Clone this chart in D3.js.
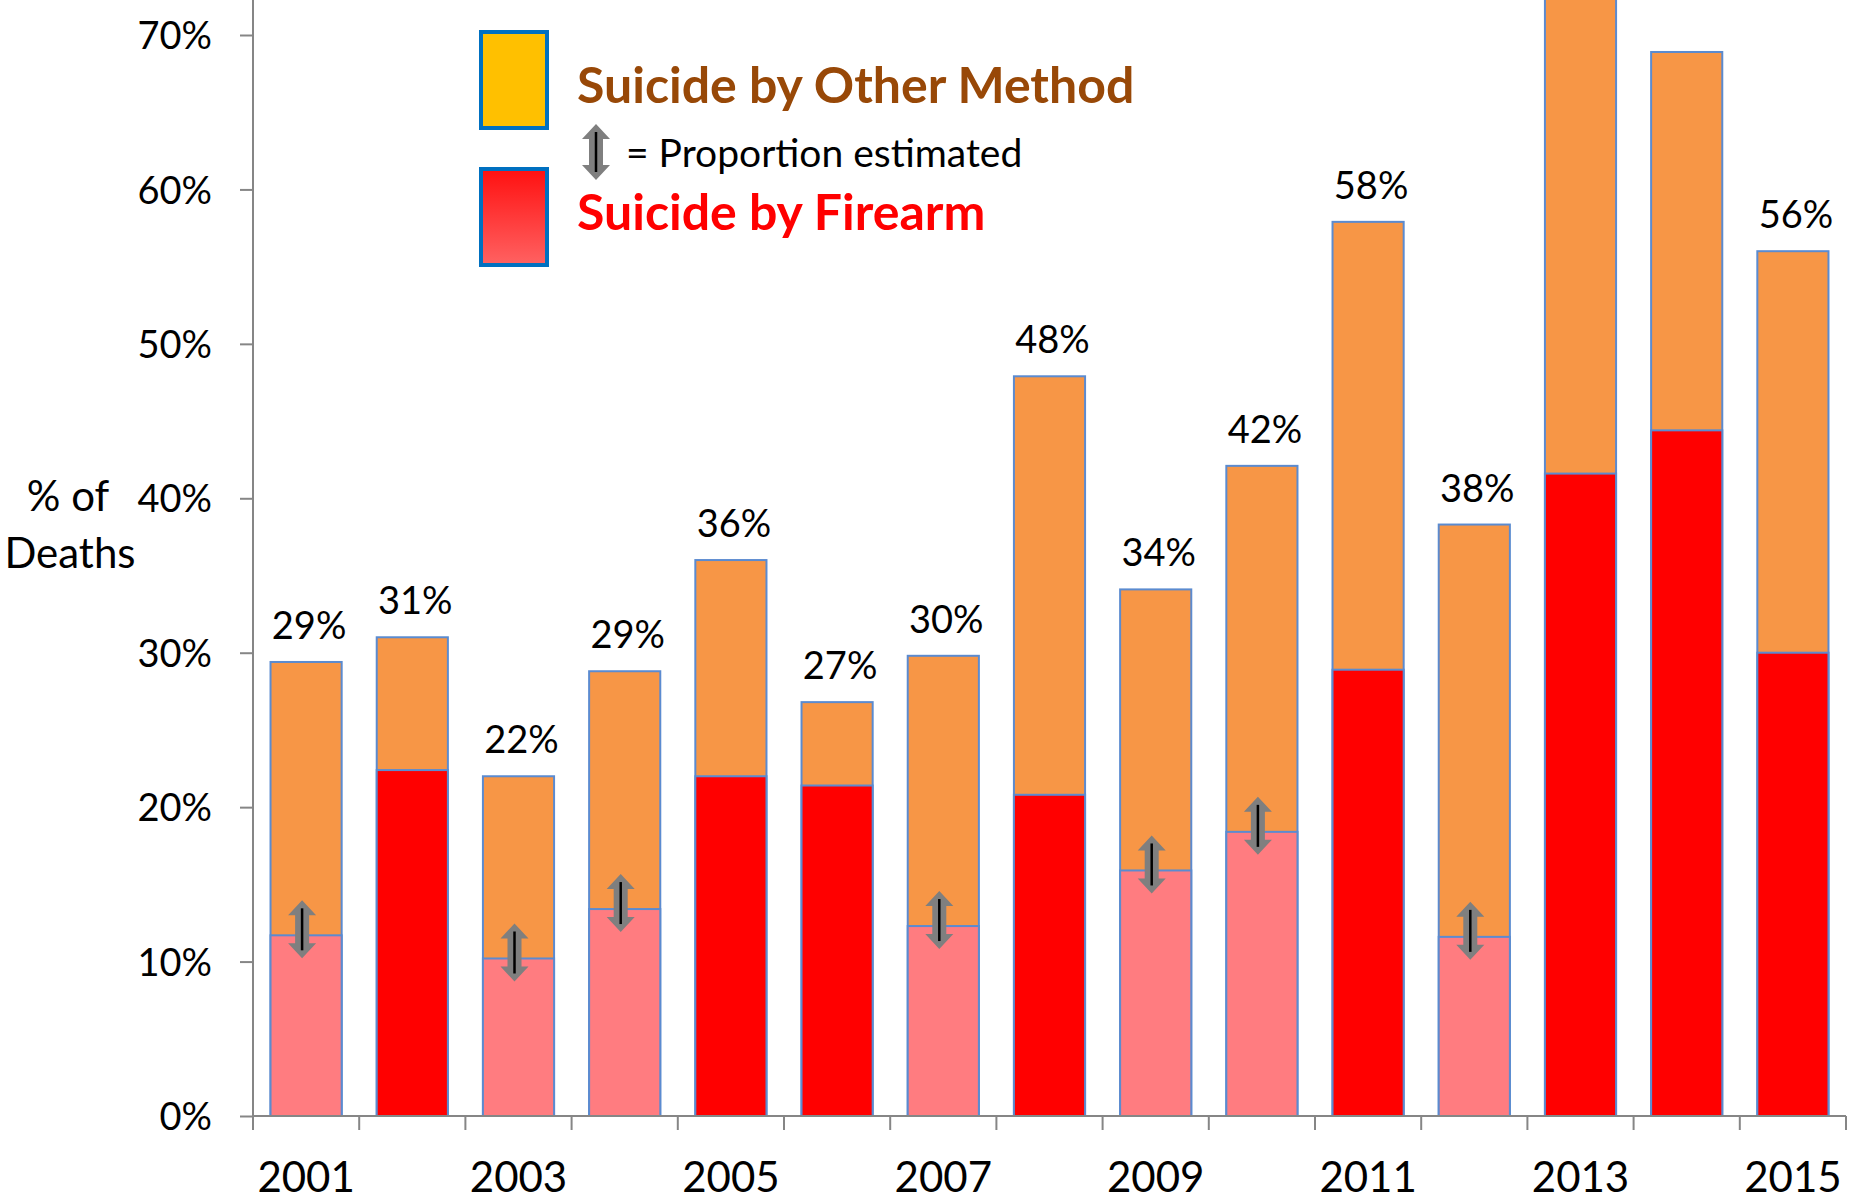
<!DOCTYPE html>
<html lang="en">
<head>
	<meta charset="UTF-8">
	<title>Suicide by firearm / other method</title>
	<script src="https://cdnjs.cloudflare.com/ajax/libs/d3/7.8.5/d3.min.js"></script>
	<style>
		body{
			margin: 0;
			background: #fff;
		}
		text{
			font-family: Lato, "Open Sans", sans-serif;
		}
		.domain,.tick line{
			stroke: #868686;
			stroke-width: 2;
		}
	</style>
</head>
<body>
	<div id="container"></div>
<script>
	var years=[2001,2002,2003,2004,2005,2006,2007,2008,2009,2010,2011,2012,2013,2014,2015]
	// total % of deaths that were suicide, and the firearm part of it
	var totalPct=[29.4,31.0,22.0,28.8,36.0,26.8,29.8,47.9,34.1,42.1,57.9,38.3,77,68.9,56.0]
	var firearmPct=[11.7,22.4,10.2,13.4,22.0,21.4,12.3,20.8,15.9,18.4,28.9,11.6,41.6,44.4,30.0]
	// years where the firearm proportion was estimated
	var estimated=[true,false,true,true,false,false,true,false,true,true,false,true,false,false,false]
	var yTicks=[0,10,20,30,40,50,60,70]
	var yearLabels=[2001,2003,2005,2007,2009,2011,2013,2015]

	var width=1864,
	height=1203,
	x0=253,x1=1846,
	y0=1116,y70=35

	var data=years.map(function(y,i){
		return {year:y,total:totalPct[i],firearm:firearmPct[i],est:estimated[i]}
	})

	var svg=d3.select('#container')
	.append('svg')
	.attr('width',width)
	.attr('height',height)

	var defs=svg.append('defs')
	var grad=defs.append('linearGradient')
	.attr('id','redgrad')
	.attr('x1',0).attr('y1',0).attr('x2',0).attr('y2',1)
	grad.append('stop').attr('offset','0%').attr('stop-color','#ff1010')
	grad.append('stop').attr('offset','100%').attr('stop-color','#ff6262')

	var scale_x=d3.scaleBand()
	.domain(years)
	.range([x0,x1])
	.paddingInner(0.33)
	.paddingOuter(0.165)
	var scale_y=d3.scaleLinear()
	.domain([0,70])
	.range([y0,y70])

	// bars: other method (full height) then firearm on top of it
	var bars=svg.append('g')
	bars.selectAll('rect.total')
	.data(data)
	.enter()
	.append('rect')
	.attr('class','total')
	.attr('x',function(d){return scale_x(d.year)})
	.attr('y',function(d){return scale_y(d.total)})
	.attr('width',scale_x.bandwidth())
	.attr('height',function(d){return y0-scale_y(d.total)})
	.attr('fill','#f79646')
	.attr('stroke','#5b8bd0')
	.attr('stroke-width',2)

	bars.selectAll('rect.fire')
	.data(data)
	.enter()
	.append('rect')
	.attr('class','fire')
	.attr('x',function(d){return scale_x(d.year)})
	.attr('y',function(d){return scale_y(d.firearm)})
	.attr('width',scale_x.bandwidth())
	.attr('height',function(d){return y0-scale_y(d.firearm)})
	.attr('fill',function(d){return d.est?'#ff7c80':'#ff0000'})
	.attr('stroke','#5b8bd0')
	.attr('stroke-width',2)

	// total labels above bars
	svg.append('g')
	.selectAll('text')
	.data(data.filter(function(d){return scale_y(d.total)-23>30}))
	.enter()
	.append('text')
	.attr('x',function(d){return scale_x(d.year)+scale_x.bandwidth()/2+3})
	.attr('y',function(d){return scale_y(d.total)-23})
	.attr('text-anchor','middle')
	.style('font-size','38px')
	.style('fill','#000')
	.text(function(d){return Math.round(d.total)+'%'})

	// double arrow marking estimated proportion
	function arrowPath(h,hw,sw,hh){
		return 'M0,'+(-h)+'L'+hw+','+(-h+hh)+'L'+sw+','+(-h+hh)+'L'+sw+','+(h-hh)+'L'+hw+','+(h-hh)
		+'L0,'+h+'L'+(-hw)+','+(h-hh)+'L'+(-sw)+','+(h-hh)+'L'+(-sw)+','+(-h+hh)+'L'+(-hw)+','+(-h+hh)+'Z'
	}
	function drawArrow(g,h,hw,sw,hh){
		g.append('path')
		.attr('d',arrowPath(h,hw,sw,hh))
		.attr('fill','#7f7f7f')
		g.append('line')
		.attr('x1',0).attr('x2',0)
		.attr('y1',-h+8).attr('y2',h-8)
		.attr('stroke','#000')
		.attr('stroke-width',2.5)
	}
	data.filter(function(d){return d.est}).forEach(function(d){
		var g=svg.append('g')
		.attr('transform','translate('+(scale_x(d.year)+scale_x.bandwidth()/2-4)+','+(scale_y(d.firearm)-6)+')')
		drawArrow(g,29,14,7,15)
	})

	// axes
	var x_axis=d3.axisBottom(scale_x).tickSize(0).tickFormat(function(d){return yearLabels.indexOf(d)>=0?d:''})
	var gx=svg.append('g')
	.attr('transform','translate(0,'+y0+')')
	.call(x_axis)
	gx.select('.domain').attr('d','M'+x0+',0H'+x1)
	gx.selectAll('.tick text')
	.attr('y',76)
	.attr('dy',0)
	.style('font-size','42px')
	.style('fill','#000')
	var bounds=years.map(function(y){return scale_x(y)-scale_x.step()*scale_x.paddingInner()/2})
	bounds.push(x1)
	gx.selectAll('line.sep')
	.data(bounds)
	.enter()
	.append('line')
	.attr('class','sep')
	.attr('x1',function(d){return d}).attr('x2',function(d){return d})
	.attr('y1',0).attr('y2',14)
	.attr('stroke','#868686')
	.attr('stroke-width',2)

	var y_axis=d3.axisLeft(scale_y).tickValues(yTicks).tickSize(13).tickPadding(28)
	.tickFormat(function(d){return d+'%'})
	var gy=svg.append('g')
	.attr('transform','translate('+x0+',0)')
	.call(y_axis)
	gy.select('.domain').attr('d','M0,0V'+y0)
	gy.selectAll('.tick text')
	.style('font-size','38px')
	.attr('dy','0.36em')
	.style('fill','#000')

	svg.append('text')
	.attr('x',68).attr('y',511)
	.attr('text-anchor','middle')
	.style('font-size','42px')
	.style('fill','#000')
	.text('% of')
	svg.append('text')
	.attr('x',70).attr('y',568)
	.attr('text-anchor','middle')
	.style('font-size','42px')
	.style('fill','#000')
	.text('Deaths')

	// legend
	var lg=svg.append('g')
	lg.append('rect')
	.attr('x',481).attr('y',32).attr('width',66).attr('height',96)
	.attr('fill','#ffc000').attr('stroke','#0070c0').attr('stroke-width',4)
	lg.append('rect')
	.attr('x',481).attr('y',169).attr('width',66).attr('height',96)
	.attr('fill','url(#redgrad)').attr('stroke','#0070c0').attr('stroke-width',4)
	lg.append('text')
	.attr('x',577).attr('y',103)
	.style('font-size','50px').style('font-weight','bold')
	.style('fill','#984807')
	.text('Suicide by Other Method')
	lg.append('text')
	.attr('x',577).attr('y',230)
	.style('font-size','50px').style('font-weight','bold')
	.style('fill','#ff0000')
	.text('Suicide by Firearm')
	lg.append('text')
	.attr('x',626).attr('y',167)
	.style('font-size','39px')
	.style('fill','#000')
	.text('= Proportion estimated')
	var la=lg.append('g').attr('transform','translate(596,152)')
	drawArrow(la,28,14,7,15)
</script>
</body>
</html>
